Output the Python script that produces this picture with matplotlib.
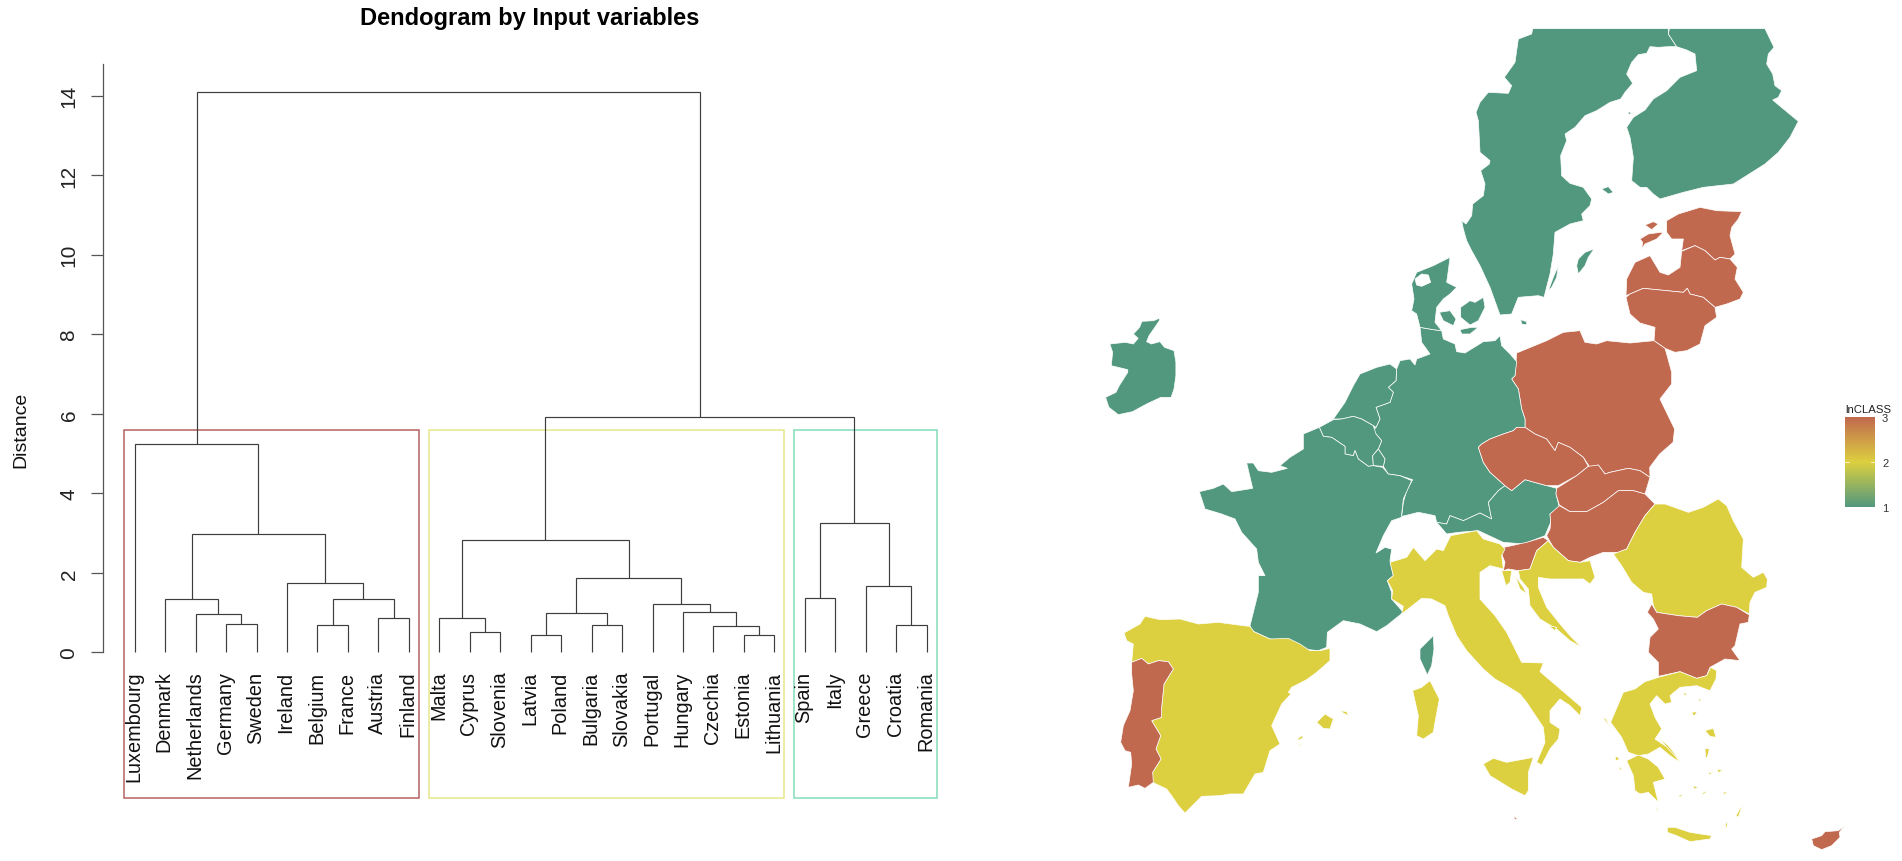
import numpy as np
import matplotlib
matplotlib.use("Agg")
import matplotlib.pyplot as plt
from matplotlib.colors import LinearSegmentedColormap, Normalize
from matplotlib.patches import Rectangle

plt.rcParams['font.family'] = ['Liberation Sans', 'DejaVu Sans']

W, H = 1902, 862

# ---------- dendrogram data ----------
LEAVES = ["Luxembourg", "Denmark", "Netherlands", "Germany", "Sweden", "Ireland", "Belgium",
          "France", "Austria", "Finland", "Malta", "Cyprus", "Slovenia", "Latvia", "Poland",
          "Bulgaria", "Slovakia", "Portugal", "Hungary", "Czechia", "Estonia", "Lithuania",
          "Spain", "Italy", "Greece", "Croatia", "Romania"]
# R hclust convention: -k = leaf k, +k = merge row k
MERGE_LEFT = [-21, -14, -12, -20, -7, -16, -26, -4, -9, -11, -3, 2, -19, -18, 5, -2, -23, -25, -6, 12, 10, 16, 17, -1, 21, 24]
MERGE_RIGHT = [-22, -15, -13, 1, -8, -17, -27, -5, -10, 3, 8, 6, 4, 13, 9, 11, -24, 7, 15, 14, 20, 19, 18, 22, 23, 25]
MERGE_HEIGHT = [0.44, 0.44, 0.50, 0.66, 0.68, 0.68, 0.68, 0.70, 0.86, 0.86, 0.96, 0.98, 1.02, 1.21,
                1.34, 1.34, 1.37, 1.66, 1.74, 1.86, 2.83, 2.975, 3.24, 5.23, 5.93, 14.1]
Y_TICKS = [0, 2, 4, 6, 8, 10, 12, 14]
CLUSTER_LO = [0.66, 10.66, 22.66]
CLUSTER_HI = [10.33, 22.33, 27.33]
CLUSTER_COLORS = ["#B5625F", "#E6E88C", "#84DDBB"]

# ---------- map data ----------
CLASS_VALUE = {"Ireland": 1, "Sweden": 1, "Finland": 1, "Denmark": 1, "Germany": 1, "Netherlands": 1,
               "Belgium": 1, "Luxembourg": 1, "France": 1, "Austria": 1,
               "Spain": 2, "Italy": 2, "Greece": 2, "Croatia": 2, "Romania": 2,
               "Portugal": 3, "Estonia": 3, "Latvia": 3, "Lithuania": 3, "Poland": 3, "Czechia": 3,
               "Slovakia": 3, "Hungary": 3, "Slovenia": 3, "Bulgaria": 3, "Cyprus": 3, "Malta": 3}
LEGEND_TICKS = [1, 2, 3]


def crop(ox, oy, sx=3.0, sy=3.0):
    return lambda pts: [(ox + x / sx, oy + y / sy) for x, y in pts]


A, B, C, D = crop(1450, 25), crop(1400, 200), crop(1290, 360), crop(1190, 450)
E, F, G = crop(1110, 610), crop(1380, 520), crop(1590, 490)
N, S = crop(1090, 20, 2.119), crop(1090, 430, 2.01)

IRELAND = [N([(148,897),(147,905),(135,930),(125,950),(120,968),(130,975),(148,968),(158,985),(178,995),(182,1030),(182,1070),(178,1110),(172,1135),(150,1135),(120,1155),(90,1178),(60,1187),(40,1165),(33,1135),(55,1120),(62,1100),(80,1060),(80,1052),(45,1040),(48,1000),(42,975),(75,970),(92,975),(102,958),(92,945),(105,925),(110,907),(135,905)])]
SWEDEN = [A([(248,14),(655,14),(655,30),(668,50),(680,68),(655,68),(625,70),(600,68),(590,88),(565,92),(545,115),(530,150),(548,178),(525,205),(512,225),(480,235),(440,260),(405,275),(375,310),(345,330),(350,350),(332,395),(335,455),(360,478),(400,490),(425,525),(420,545),(395,570),(400,590),(360,600),(315,625),(310,690),(300,750)]) +
          B([(432,295),(415,290),(355,295),(335,345),(300,348),(270,265),(240,200)]) +
          A([(65,680),(50,650),(40,615),(35,590),(48,600),(65,575),(68,540),(100,515),(105,480),(92,440),(118,420),(120,410),(90,385),(88,345),(85,290),(78,265),(90,235),(115,205),(175,208),(185,185),(163,160),(195,115),(205,45),(245,30)]),
          A([(432,675),(405,685),(385,705),(380,725),(385,750),(405,725),(415,700)]),
          A([(325,725),(310,760),(295,800),(305,790),(320,760)])]
FINLAND = [A([(658,14),(945,14),(972,70),(955,90),(950,120),(968,150),(975,185),(995,200),(985,220),(968,228),(1045,292),(1020,340),(985,385),(945,420),(850,480),(760,490),(700,505),(630,525),(610,510),(590,490),(570,490),(545,470),(550,400),(540,340),(530,310),(550,280),(585,258),(610,225),(650,200),(690,160),(740,140),(735,90),(710,78),(680,68),(668,50),(655,30)]),
           A([(455,495),(475,488),(490,505),(475,510)]), A([(535,262),(545,268),(535,272)])]
ESTONIA = [B([(800,65),(835,45),(900,25),(950,35),(1025,38),(1015,60),(995,85),(990,110),(1005,165),(990,180),(960,175),(945,183),(915,155),(885,140),(845,155),(850,120),(815,120),(800,100)]),
           B([(720,120),(745,105),(780,100),(790,100),(770,120),(735,135),(725,150),(728,130)]),
           B([(735,78),(760,68),(775,75),(755,92)])]
LATVIA = [B([(845,157),(885,140),(915,155),(945,183),(960,175),(990,180),(1012,205),(1005,240),(1030,280),(1020,300),(980,315),(945,325),(910,295),(870,285),(862,268),(850,280),(800,275),(730,268),(690,285),(678,290),(680,240),(705,190),(750,170),(780,220),(805,228),(840,205)])]
LITHUANIA = [B([(678,295),(690,285),(730,268),(800,275),(850,280),(862,268),(870,285),(910,295),(945,325),(950,355),(915,380),(900,435),(860,455),(825,460),(795,448),(762,425),(765,385),(720,372),(690,345)])]
POLAND = [B([(350,462),(440,425),(490,400),(540,395),(555,430),(590,435),(620,425),(690,432),(762,425),(795,448),(800,465),(815,520),(815,555),(780,600)]) +
          S([(1175,0),(1172,40),(1145,75),(1125,115)]) +
          C([(1080,355),(1050,335),(1015,328),(960,340),(945,345),(925,318),(900,325),(880,295),(840,265),(805,250),(795,275),(770,240),(735,225),(705,205),(705,180),(695,150),(690,120)]) +
          B([(355,570),(335,540),(345,530)])]
GERMANY = [B([(60,385),(100,392),(125,395),(130,420),(165,435),(170,458),(195,462),(250,428),(285,425),(300,410),(305,440),(330,465),(350,488),(345,530),(335,540),(355,570),(360,600)]) +
           C([(695,150),(705,180),(705,205),(680,205),(670,215),(640,225),(600,240),(575,255),(565,265),(580,310),(600,340),(645,380),(625,395),(595,430),(605,480),(570,462),(520,485),(480,470),(470,495),(440,490),(435,470),(385,460),(345,470),(335,472),(340,430),(350,395),(368,362),(330,350),(295,345),(280,322),(285,300),(265,270),(275,245),(258,225),(240,225),(258,205),(270,180),(258,145),(300,130),(310,100),(295,85),(318,65),(320,30)]) +
           B([(0,485),(30,480),(45,498),(50,480),(90,465),(65,430)])]
NETHERLANDS = [C([(320,30),(318,65),(295,85),(310,100),(300,130),(258,145),(270,180),(258,205),(250,200),(215,180),(190,172),(155,180),(130,180),(165,130),(190,80),(210,45),(260,25),(300,15)])]
BELGIUM = [C([(88,205),(130,182),(155,180),(190,172),(215,180),(250,200),(258,225),(275,245),(265,270),(248,290),(250,320),(235,322),(205,300),(195,275),(190,290),(165,285),(165,262),(125,235),(100,232)])]
LUXEMBOURG = [C([(265,270),(285,300),(280,322),(250,320),(248,290)])]
FRANCE = [C([(88,205),(40,225),(40,270),(0,295)]) +
          D([(270,50),(292,58),(245,70),(205,65),(190,42),(170,42),(188,118),(145,125),(125,128),(100,105),(70,118),(28,128),(45,180),(95,195),(135,210),(155,250),(200,300),(205,340),(225,380),(205,380),(205,430),(180,530),(185,545),(240,570),(295,575),(340,600),(385,605),(410,595),(412,550),(460,515),(510,525),(560,548),(590,530),(640,490),(605,450),(605,430),(592,395),(610,380),(600,335),(605,300),(585,295),(558,312),(580,260),(605,215),(635,205),(635,195),(640,150),(665,95),(630,80),(595,75),(578,55)]) +
          C([(250,320),(235,322),(205,300),(195,275),(190,290),(165,285),(165,262),(125,235),(100,232)]),
          D([(730,560),(690,600),(690,630),(712,678),(725,650),(732,600)])]
AUSTRIA = [C([(645,380),(665,395),(705,362),(770,380),(800,388),(798,405),(808,445),(780,465),(782,490),(765,530),(700,555),(640,550),(565,515),(505,520),(470,525),(440,490),(470,495),(480,470),(520,485),(570,462),(605,480),(595,430),(625,395)])]
CZECHIA = [C([(565,265),(575,255),(600,240),(640,225),(670,215),(680,205),(705,205),(735,225),(770,240),(795,275),(805,250),(840,265),(880,295),(895,322),(860,350),(805,380),(770,380),(705,362),(665,395),(645,380),(600,340),(580,310)])]
SLOVAKIA = [C([(895,322),(925,318),(945,345),(960,340),(1015,328),(1050,335),(1080,355),(1065,405),(1030,395),(985,395),(940,430),(890,458),(840,458),(808,438),(798,405),(800,388),(860,350)])]
HUNGARY = [C([(808,440),(840,458),(890,458),(940,430),(985,395),(1030,395),(1065,405)]) +
           G([(195,45),(165,80),(135,130),(110,180),(85,190),(40,190),(0,205)]) +
           F([(600,130),(565,125),(520,85),(500,50),(510,30)]) +
           C([(782,490),(780,465)])]
SLOVENIA = [F([(358,88),(395,80),(440,70),(490,55),(505,65),(470,95),(450,150),(415,155),(385,150),(370,155),(375,130)])]
CROATIA = [F([(470,95),(505,65),(520,85),(565,125),(600,130),(630,125),(645,175),(630,195),(610,180),(560,180),(510,180),(475,175),(475,205),(500,265),(540,315),(570,350),(605,385),(570,365),(530,330),(480,300),(450,260),(445,210),(420,180),(415,155),(450,150)]),
           F([(365,155),(395,155),(390,190),(378,200)]), F([(405,170),(420,210),(440,225),(430,205)]),
           F([(505,320),(530,325),(525,335)])]
ROMANIA = [G([(195,45),(225,45),(295,70),(340,55),(385,30),(410,50),(430,95),(460,150),(455,235),(490,265),(520,250),(532,270),(530,295),(495,310),(480,340),(478,375),(440,355),(395,345),(350,365),(322,385),(265,380),(200,370),(190,350),(185,315),(160,310),(125,280),(95,230),(70,195),(110,180),(135,130),(165,80)])]
BULGARIA = [G([(185,345),(200,370),(265,380),(322,385),(350,365),(395,345),(440,355),(478,378),(475,400),(450,405),(435,470),(425,480),(450,515),(405,510),(360,535),(350,560),(320,568),(270,548),(205,562),(205,520),(175,490),(180,445),(205,420),(190,390),(172,370)])]
GREECE = [G([(190,570),(205,565),(270,548),(320,568),(350,560),(362,535),(380,545),(378,570),(360,605),(320,590),(270,595),(240,620),(245,640),(225,645),(200,620),(180,645),(195,685),(215,720),(195,750),(240,780),(270,820),(240,800),(210,775),(175,795),(145,800),(115,790),(95,745),(62,700),(100,610),(135,600),(165,578)]),
          G([(110,815),(145,798),(175,810),(205,835),(225,870),(190,880),(205,940),(175,910),(150,915),(135,905),(130,860)]),
          G([(232,1015),(255,1015),(300,1030),(365,1040),(360,1050),(300,1058),(260,1040),(232,1030)]),
          G([(205,745),(235,770),(275,820),(240,785)]),
          G([(345,725),(370,718),(378,745),(360,742)]), G([(345,778),(358,780),(352,805),(347,805)]),
          G([(380,840),(400,845),(385,850)]), G([(458,945),(445,985),(438,980)]),
          G([(305,670),(322,668),(312,682)]), G([(280,610),(290,615),(285,622)]),
          G([(38,685),(48,690),(60,715)]), G([(75,800),(90,810),(78,815)]), G([(88,830),(98,845),(88,840)]),
          G([(310,890),(325,895),(312,900)]), G([(340,910),(355,905),(335,920)]), G([(400,910),(415,908),(400,918)]),
          G([(355,852),(370,848),(358,858)]), G([(265,920),(280,915),(270,925)]), G([(410,990),(412,1010),(405,1020)]),
          G([(197,950),(205,965),(200,965)]), G([(325,630),(335,632),(328,638)])]
CYPRUS = [G([(765,1010),(745,1025),(705,1028),(695,1040),(665,1050),(670,1070),(695,1082),(725,1070),(750,1045),(748,1030)])]
MALTA = [S([(852,1160),(860,1172),(853,1170)])]
ITALY = [F([(30,130),(80,115),(100,85),(135,125),(170,90),(190,95),(212,50),(290,35),(310,60),(360,75),(375,90),(365,110),(370,150),(330,140),(300,160),(300,240),(345,290),(380,340),(425,430),(490,432),(480,458),(535,505),(605,565),(600,590),(570,560),(540,540),(510,575),(510,610),(540,630),(535,660),(510,690),(485,738),(470,730),(495,670),(490,625),(440,550),(420,525),(380,500),(345,480),(310,450),(260,395),(230,350),(205,290),(195,260),(155,240),(125,238),(65,285),(70,262),(35,240),(38,215),(22,185),(40,170)]),
         F([(310,735),(340,718),(380,730),(460,715),(445,760),(445,815),(435,830),(395,810),(330,770)]),
         F([(150,485),(178,540),(165,610),(160,640),(130,660),(110,650),(115,590),(98,515),(125,505)])]
SPAIN = [E([(42,72),(90,45),(105,22),(150,32),(210,30),(265,45),(325,40),(400,50),(420,52),(432,68),(480,90),(535,88),(570,105),(600,125),(630,125),(660,118),(660,155),(620,190),(590,212),(545,235),(535,250),(543,255),(515,285),(485,350),(510,405),(480,425),(460,490),(435,495),(400,555),(360,555),(330,560),(275,562),(225,612),(205,590),(185,560),(170,540),(128,520),(128,490),(153,450),(138,420),(152,380),(125,335),(155,325),(155,295),(162,225),(190,180),(175,158),(145,155),(115,165),(95,148),(65,160),(70,105),(50,95)]),
         E([(620,340),(645,315),(670,330),(660,360),(640,358)]), E([(690,305),(710,308),(715,320),(700,312)]),
         E([(562,390),(578,378),(578,388),(565,393)]), E([(568,405),(574,408),(570,412)])]
PORTUGAL = [E([(65,160),(95,148),(115,165),(145,155),(175,158),(190,180),(162,225),(155,295),(155,325),(125,335),(152,380),(138,420),(153,450),(128,490),(130,520),(105,538),(85,528),(55,535),(65,465),(62,430),(45,425),(32,400),(40,350),(60,305),(70,245),(65,195)])]
DENMARK = [B([(150,175),(145,215),(140,250),(170,265),(150,285),(130,300),(110,325),(105,370),(125,395),(100,392),(60,385),(50,345),(35,335),(42,300),(35,255),(50,220),(100,200)]),
           B([(182,325),(210,305),(225,310),(250,295),(255,325),(235,365),(210,378),(182,355)]),
           B([(118,340),(150,335),(168,360),(160,380),(130,365)]),
           B([(180,392),(215,385),(235,385),(210,405),(185,405)]),
           B([(362,362),(380,368),(380,378),(365,375)])]
LIMFJORD = B([(45,240),(65,225),(85,228),(92,250),(65,262),(50,258)])

OUTLINES = {"Ireland": IRELAND, "Sweden": SWEDEN, "Finland": FINLAND, "Estonia": ESTONIA, "Latvia": LATVIA,
            "Lithuania": LITHUANIA, "Poland": POLAND, "Germany": GERMANY, "Netherlands": NETHERLANDS,
            "Belgium": BELGIUM, "Luxembourg": LUXEMBOURG, "France": FRANCE, "Austria": AUSTRIA,
            "Czechia": CZECHIA, "Slovakia": SLOVAKIA, "Hungary": HUNGARY, "Slovenia": SLOVENIA,
            "Croatia": CROATIA, "Romania": ROMANIA, "Bulgaria": BULGARIA, "Greece": GREECE,
            "Cyprus": CYPRUS, "Malta": MALTA, "Italy": ITALY, "Spain": SPAIN, "Portugal": PORTUGAL,
            "Denmark": DENMARK}

cmap = LinearSegmentedColormap.from_list("lnclass", ["#52987F", "#DDD040", "#C1694F"])
norm = Normalize(1, 3)

fig = plt.figure(figsize=(W / 100, H / 100), dpi=100, facecolor="white")


def px_axes(l, t, r, b):
    return fig.add_axes([l / W, 1 - b / H, (r - l) / W, (b - t) / H])


# ---------- map ----------
ax_map = px_axes(0, 0, W, H)
ax_map.set_xlim(0, W)
ax_map.set_ylim(H, 0)
ax_map.axis("off")
for name, parts in OUTLINES.items():
    for part in parts:
        xs, ys = zip(*part)
        ax_map.fill(xs, ys, facecolor=cmap(norm(CLASS_VALUE[name])), edgecolor="white", linewidth=0.5)
ax_map.fill(*zip(*LIMFJORD), facecolor="white", edgecolor="white", linewidth=0.5)

# ---------- dendrogram ----------
PX0, PXU = 134.7, 30.46
PY0, PYU = 653.3, 39.76
L, R, T, Bt = 103, 950, 65, 810
ax = px_axes(L, T, R, Bt)
ax.set_xlim(1 + (L - PX0) / PXU, 1 + (R - PX0) / PXU)
ax.set_ylim((PY0 - Bt) / PYU, (PY0 - T) / PYU)
ax.patch.set_alpha(0)
for s in ("top", "right", "bottom"):
    ax.spines[s].set_visible(False)
ax.spines["left"].set_bounds(0, (PY0 - T) / PYU)
ax.spines["left"].set_color("#555555")
ax.spines["left"].set_linewidth(0.9)
ax.set_xticks([])
ax.set_yticks(Y_TICKS)
ax.tick_params(axis="y", length=8.6, width=0.9, color="#555555", pad=9, labelsize=15, labelcolor="#222222")
for lab in ax.get_yticklabels():
    lab.set_rotation(90)
    lab.set_va("center")

pos = {}
height = {}


def node_xy(k):
    if k < 0:
        return -k, 0.0
    return pos[k], height[k]


LINE = "#3d3d3d"
for i, (a, b, h) in enumerate(zip(MERGE_LEFT, MERGE_RIGHT, MERGE_HEIGHT), start=1):
    xa, ya = node_xy(a)
    xb, yb = node_xy(b)
    ax.plot([xa, xa, xb, xb], [ya, h, h, yb], color=LINE, lw=0.85, solid_joinstyle="miter", solid_capstyle="butt")
    pos[i] = (xa + xb) / 2
    height[i] = h

for i, name in enumerate(LEAVES, start=1):
    ax.text(i - 0.03, -0.46, name, rotation=90, ha="center", va="top", fontsize=14.3, color="#111111")

for lo, hi, c in zip(CLUSTER_LO, CLUSTER_HI, CLUSTER_COLORS):
    ax.add_patch(Rectangle((lo, -3.67), hi - lo, 5.58 + 3.67, fill=False, edgecolor=c, linewidth=1.1, clip_on=False))

fig.text(529.6 / W, 1 - 18.5 / H, "Dendogram by Input variables", ha="center", va="center",
         fontsize=17, fontweight="bold", color="black")
fig.text(21 / W, 1 - 430 / H, "Distance", rotation=90, ha="center", va="center", fontsize=14, color="#111111")

# ---------- legend ----------
ax_leg = px_axes(1845, 418, 1875, 508)
grad = np.linspace(1, 3, 256).reshape(-1, 1)
ax_leg.imshow(grad, extent=[0, 1, 1, 3], origin="lower", aspect="auto", cmap=cmap, norm=norm)
ax_leg.set_xticks([])
ax_leg.yaxis.tick_right()
ax_leg.set_yticks(LEGEND_TICKS)
ax_leg.set_yticklabels([str(t) for t in LEGEND_TICKS], fontsize=8, color="#333333")
ax_leg.tick_params(axis="y", length=0, pad=5)
for s in ax_leg.spines.values():
    s.set_visible(False)
for t in LEGEND_TICKS[1:2]:
    ax_leg.plot([0, 0.12], [t, t], color="white", lw=0.6, alpha=0.8)
    ax_leg.plot([0.88, 1], [t, t], color="white", lw=0.6, alpha=0.8)
ax_leg.set_xlim(0, 1)
ax_leg.set_ylim(1, 3)
fig.text(1868 / W, 1 - 410 / H, "lnCLASS", ha="center", va="center", fontsize=8.2, color="#222222")

fig.savefig("out.png", dpi=100, facecolor="white")
